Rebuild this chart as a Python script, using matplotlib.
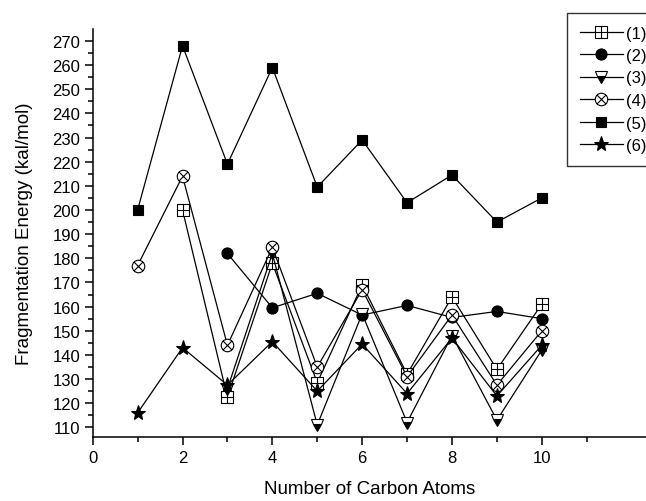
import matplotlib
matplotlib.use('Agg')
import matplotlib.pyplot as plt
import numpy as np
from matplotlib.path import Path
from matplotlib.ticker import MultipleLocator, FixedLocator

plt.rcParams['font.family'] = ['Liberation Sans', 'DejaVu Sans']

# carbon atom counts per series
x1 = [2, 3, 4, 5, 6, 7, 8, 9, 10]
y1 = [200, 122.5, 178, 128.5, 169, 132, 164, 134, 161]
x2 = [3, 4, 5, 6, 7, 8, 9, 10]
y2 = [182, 159.5, 165.5, 156.5, 160.5, 155.5, 158, 155]
x3 = [3, 4, 5, 6, 7, 8, 9, 10]
y3 = [126, 182, 111, 157, 112, 148, 113, 142]
x4 = [1, 2, 3, 4, 5, 6, 7, 8, 9, 10]
y4 = [177, 214, 144, 184.5, 135, 167, 131, 156.5, 127.5, 150]
x5 = [1, 2, 3, 4, 5, 6, 7, 8, 9, 10]
y5 = [200, 268, 219, 259, 209.5, 229, 203, 214.5, 195, 205]
x6 = [1, 2, 3, 4, 5, 6, 7, 8, 9, 10]
y6 = [116, 143, 127.5, 145.5, 125, 144.5, 124, 147, 123, 144]
labels = ['(1)', '(2)', '(3)', '(4)', '(5)', '(6)']

# custom markers: square with plus, circle with cross
sq_plus = Path(
    [(-1, -1), (1, -1), (1, 1), (-1, 1), (-1, -1),
     (0, -1), (0, 1), (-1, 0), (1, 0)],
    [Path.MOVETO, Path.LINETO, Path.LINETO, Path.LINETO, Path.CLOSEPOLY,
     Path.MOVETO, Path.LINETO, Path.MOVETO, Path.LINETO])
d = np.sqrt(0.5)
cross = Path([(-d, -d), (d, d), (-d, d), (d, -d)],
             [Path.MOVETO, Path.LINETO, Path.MOVETO, Path.LINETO])
circ_x = Path.make_compound_path(Path.unit_circle(), cross)

fig = plt.figure(figsize=(6.46, 5.02), dpi=100)
ax = fig.add_axes([0.1435, 0.127, 0.8565, 0.813])

kw = dict(color='black', lw=0.9, mec='black', mew=0.8)
ax.plot(x1, y1, marker=sq_plus, ms=8, mfc='white', label=labels[0], **kw)
ax.plot(x2, y2, marker='o', ms=8, mfc='black', label=labels[1], **kw)
ax.plot(x3, y3, marker='v', ms=8.5, mfc='black', fillstyle='bottom',
        markerfacecoloralt='white', label=labels[2], **kw)
ax.plot(x4, y4, marker=circ_x, ms=9, mfc='white', label=labels[3], **kw)
ax.plot(x5, y5, marker='s', ms=7.5, mfc='black', label=labels[4], **kw)
ax.plot(x6, y6, marker='*', ms=11, mfc='black', label=labels[5], **kw)

ax.set_xlim(0, 12.32)
ax.set_ylim(105.9, 274.9)
ax.xaxis.set_major_locator(FixedLocator([0, 2, 4, 6, 8, 10]))
ax.xaxis.set_minor_locator(FixedLocator([1, 3, 5, 7, 9, 11]))
ax.yaxis.set_major_locator(FixedLocator(np.arange(110, 271, 10)))
ax.yaxis.set_minor_locator(MultipleLocator(5))

for s in ['top', 'right']:
    ax.spines[s].set_visible(False)
for s in ['left', 'bottom']:
    ax.spines[s].set_linewidth(1.1)
ax.tick_params(which='major', direction='out', length=6, width=1.1, labelsize=12, pad=3)
ax.tick_params(which='minor', direction='out', length=3.5, width=1.1)

ax.set_xlabel('Number of Carbon Atoms', fontsize=13.5, labelpad=11)
ax.set_ylabel('Fragmentation Energy (kal/mol)', fontsize=13.5, labelpad=14)

leg = fig.legend(loc='upper left', bbox_to_anchor=(567 / 646, 1 - 14 / 502),
                 fontsize=12, frameon=True, fancybox=False, handlelength=2.6,
                 handletextpad=0.2, labelspacing=0.45, borderpad=0.75,
                 borderaxespad=0)
leg.get_frame().set_edgecolor('black')
leg.get_frame().set_linewidth(1.0)

fig.savefig('out.png', dpi=100)
